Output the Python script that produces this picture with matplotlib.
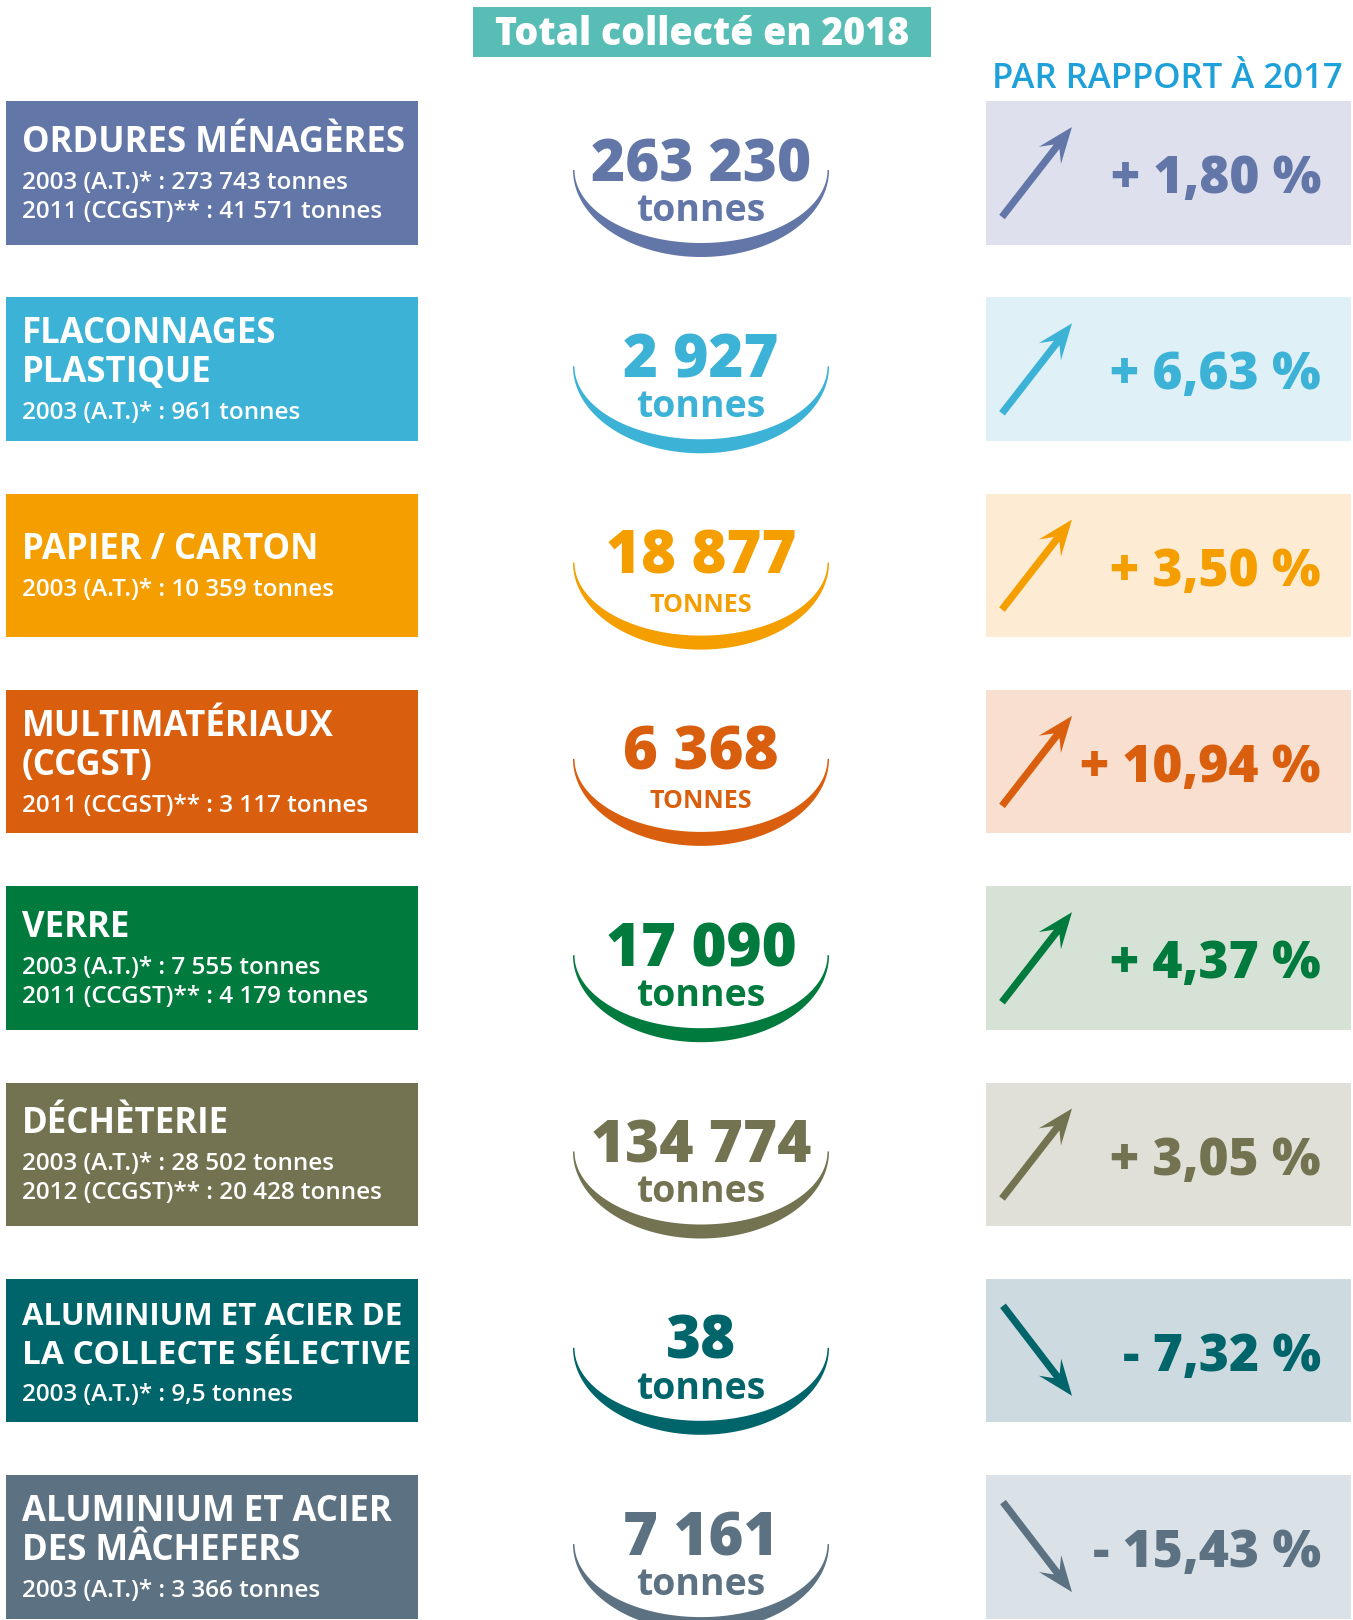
import numpy as np
import matplotlib
matplotlib.use("Agg")
import matplotlib.pyplot as plt
from matplotlib.patches import Rectangle, Polygon

titles = ["ORDURES MÉNAGÈRES", "FLACONNAGES\nPLASTIQUE", "PAPIER / CARTON",
          "MULTIMATÉRIAUX\n(CCGST)", "VERRE", "DÉCHÈTERIE",
          "ALUMINIUM ET ACIER DE\nLA COLLECTE SÉLECTIVE",
          "ALUMINIUM ET ACIER\nDES MÂCHEFERS"]
history = [["2003 (A.T.)* : 273 743 tonnes", "2011 (CCGST)** : 41 571 tonnes"],
           ["2003 (A.T.)* : 961 tonnes"],
           ["2003 (A.T.)* : 10 359 tonnes"],
           ["2011 (CCGST)** : 3 117 tonnes"],
           ["2003 (A.T.)* : 7 555 tonnes", "2011 (CCGST)** : 4 179 tonnes"],
           ["2003 (A.T.)* : 28 502 tonnes", "2012 (CCGST)** : 20 428 tonnes"],
           ["2003 (A.T.)* : 9,5 tonnes"],
           ["2003 (A.T.)* : 3 366 tonnes"]]
totals_2018 = [263230, 2927, 18877, 6368, 17090, 134774, 38, 7161]
units = ["tonnes", "tonnes", "TONNES", "TONNES", "tonnes", "tonnes", "tonnes", "tonnes"]
change_pct = [1.80, 6.63, 3.50, 10.94, 4.37, 3.05, -7.32, -15.43]

colors = ["#6276a8", "#3bb2d6", "#f59e00", "#d95f0e",
          "#007a3d", "#737351", "#00656a", "#5c7282"]
light = ["#dfe0ee", "#dff0f7", "#fdecd3", "#f8dfd0",
         "#d5e2d5", "#e0e0d8", "#cddadf", "#dae2e8"]

W, H = 1353, 1620
FONT = "Open Sans"

fig = plt.figure(figsize=(W / 100, H / 100), dpi=100)
ax = fig.add_axes([0, 0, 1, 1])
ax.set_xlim(0, W)
ax.set_ylim(H, 0)
ax.axis("off")
renderer = fig.canvas.get_renderer()


def fit(t, max_w):
    """shrink a text until it fits max_w pixels"""
    while t.get_window_extent(renderer).width > max_w:
        t.set_fontsize(t.get_fontsize() - 0.5)


def fmt_total(v):
    return f"{v:,}".replace(",", " ")


def fmt_pct(v):
    sign = "+" if v >= 0 else "-"
    return f"{sign} {abs(v):.2f} %".replace(".", ",")


def arrow(x0, y0, x1, y1, color):
    tail, tip = np.array([x0, y0]), np.array([x1, y1])
    u = (tip - tail) / np.linalg.norm(tip - tail)
    n = np.array([-u[1], u[0]])
    hw, L, Wd, nd = 3.6, 36, 14, 25
    s = tip - nd * u
    base = tip - L * u
    pts = [tail + hw * n, s + hw * n, base + Wd * n, tip,
           base - Wd * n, s - hw * n, tail - hw * n]
    ax.add_patch(Polygon(pts, closed=True, color=color, lw=0, zorder=3))


# header
ax.add_patch(Rectangle((473, 7), 458, 50, color="#57bdb5", lw=0))
t = ax.text(702, 45, "Total collecté en 2018", ha="center", va="baseline",
            fontsize=28, fontweight=800, family=FONT, color="white")
fit(t, 420)
t = ax.text(1167, 88, "PAR RAPPORT À 2017", ha="center", va="baseline",
            fontsize=25, fontweight=600, family=FONT, color="#1ea0d8")
fit(t, 364)

top0, pitch, bh = 101, 196.3, 143.5
for i in range(len(titles)):
    top = top0 + i * pitch
    c = colors[i]

    # left label box
    ax.add_patch(Rectangle((6, top), 412, bh, color=c, lw=0))
    tlines = titles[i].split("\n")
    lines = [(s, True) for s in tlines] + [(s, False) for s in history[i]]
    offs = [0.0]
    for k in range(1, len(lines)):
        if lines[k][1]:
            step = 39
        elif lines[k - 1][1]:
            step = 37
        else:
            step = 29
        offs.append(offs[-1] + step)
    b0 = top + bh / 2 + 12 - offs[-1] / 2
    for (s, is_title), o in zip(lines, offs):
        if is_title:
            t = ax.text(22, b0 + o, s, ha="left", va="baseline", fontsize=25,
                        fontweight="bold", family=FONT, color="white")
        else:
            t = ax.text(22, b0 + o, s, ha="left", va="baseline", fontsize=17.5,
                        fontweight=600, family=FONT, color="white")
        fit(t, 390)

    # centre crescent with the 2018 total
    cx, cy = 701, top + 69
    th = np.linspace(0, np.pi, 200)
    outer = np.column_stack([cx + 128 * np.cos(th), cy + 87 * np.sin(th)])
    inner = np.column_stack([cx + 126.5 * np.cos(th), cy + 73 * np.sin(th)])[::-1]
    ax.add_patch(Polygon(np.vstack([outer, inner]), closed=True, color=c, lw=0))
    t = ax.text(cx, top + 80, fmt_total(totals_2018[i]), ha="center", va="baseline",
                fontsize=43, fontweight=800, family=FONT, color=c)
    fit(t, 222)
    if units[i].isupper():
        ax.text(cx, top + 118, units[i], ha="center", va="baseline", fontsize=18,
                fontweight="bold", family=FONT, color=c)
    else:
        ax.text(cx, top + 120, units[i], ha="center", va="baseline", fontsize=27,
                fontweight="bold", family=FONT, color=c)

    # right change box
    ax.add_patch(Rectangle((986, top), 365, bh, color=light[i], lw=0))
    if change_pct[i] >= 0:
        arrow(986 + 16, top + 116, 986 + 86, top + 26, c)
    else:
        arrow(986 + 17, top + 27, 986 + 86, top + 117, c)
    ax.text(1321, top + 92, fmt_pct(change_pct[i]), ha="right", va="baseline",
            fontsize=37, fontweight=800, family=FONT, color=c)

fig.savefig("out.png", dpi=100)
